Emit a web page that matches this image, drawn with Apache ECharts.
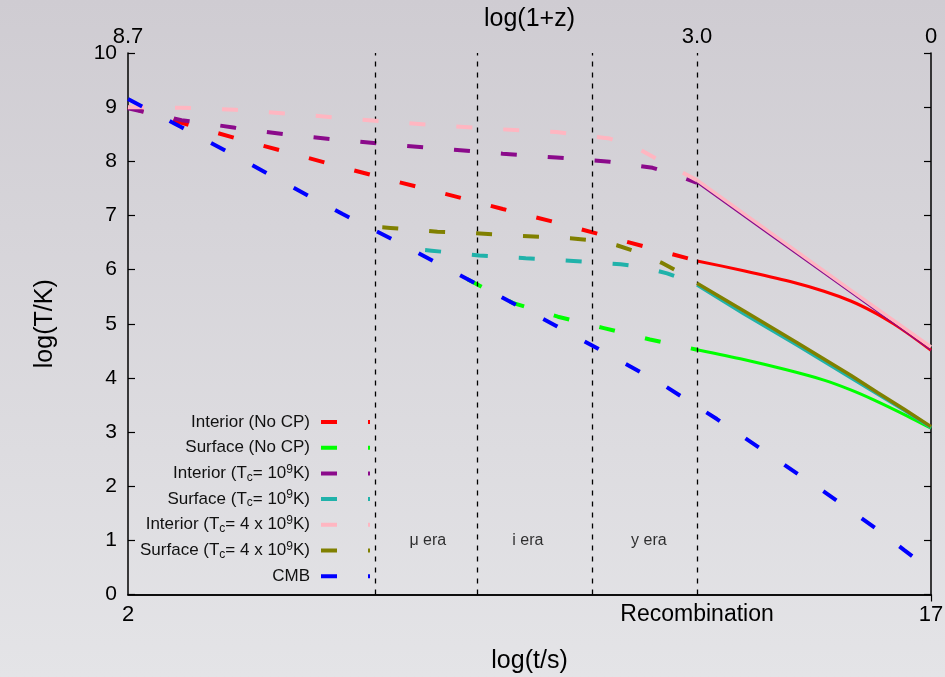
<!DOCTYPE html>
<html><head><meta charset="utf-8">
<script src="https://cdn.jsdelivr.net/npm/echarts@6/dist/echarts.min.js"></script>
<style>
html,body{margin:0;padding:0;width:945px;height:677px;overflow:hidden;background:linear-gradient(#cfccd2,#e4e4e7);}
#c{width:945px;height:677px;}
</style>
</head><body><div id="c"></div>
<script>
// ---- data ----
const bottomTickValues = [2, 12.63, 17];
const bottomTickLabels = ['2', 'Recombination', '17'];
const topTickLabels = ['8.7', '3.0', '0'];
const eraLines = [6.62, 8.53, 10.68, 12.63];
const eraNames = ['\u03bc era', 'i era', 'y era'];
const eraX = [7.6, 9.47, 11.73];
const eraY = [1.0, 1.0, 1.0];

const seriesNames = ['Interior (No CP)', 'Surface (No CP)', 'Interior (Tc = 10^9 K)', 'Surface (Tc = 10^9 K)',
  'Interior (Tc = 4 x 10^9 K)', 'Surface (Tc = 4 x 10^9 K)', 'CMB'];

const redX = [2, 3, 4, 5, 6, 7, 8, 9, 10, 11, 12, 12.63];
const redY = [9.0, 8.71, 8.43, 8.16, 7.89, 7.63, 7.38, 7.12, 6.87, 6.6, 6.33, 6.16];
const redLateX = [12.63, 13.5, 14.37, 15, 15.5, 15.92, 16.3, 16.6, 17];
const redLateY = [6.16, 5.98, 5.78, 5.6, 5.42, 5.22, 5.0, 4.8, 4.51];

const greenX = [8.34, 9.2, 10.03, 10.89, 11.75, 12.63];
const greenY = [5.82, 5.38, 5.13, 4.92, 4.71, 4.52];
const greenLateX = [12.63, 13.5, 14.3, 15, 15.5, 15.92, 16.55, 17];
const greenLateY = [4.52, 4.34, 4.15, 3.96, 3.78, 3.6, 3.3, 3.07];

const purpleX = [2, 3, 4, 5, 6, 7, 8, 9, 10, 11, 11.8, 12.2, 12.63];
const purpleY = [8.98, 8.76, 8.62, 8.49, 8.39, 8.3, 8.22, 8.14, 8.07, 7.99, 7.88, 7.76, 7.6];
const purpleLateX = [12.63, 14, 15.5, 17];
const purpleLateY = [7.6, 6.63, 5.57, 4.51];

const cyanX = [7.55, 7.67, 8.56, 9.43, 10.32, 11.2, 11.6, 12.07, 12.35, 12.63];
const cyanY = [6.36, 6.35, 6.26, 6.21, 6.16, 6.1, 6.05, 5.93, 5.83, 5.71];
const cyanLateX = [12.63, 13.5, 14.5, 15.5, 16.5, 17];
const cyanLateY = [5.71, 5.18, 4.6, 4.0, 3.4, 3.08];

const pinkX = [2, 3, 4, 5, 6, 7, 8, 9, 10, 11, 11.5, 12, 12.63];
const pinkY = [9.0, 8.99, 8.95, 8.88, 8.8, 8.72, 8.65, 8.59, 8.54, 8.42, 8.25, 7.98, 7.65];
const pinkLateX = [12.63, 14, 15.5, 17];
const pinkLateY = [7.65, 6.68, 5.62, 4.57];

const oliveX = [6.75, 6.9, 7.78, 8.5, 9.37, 10.26, 10.8, 11.13, 11.5, 11.96, 12.3, 12.63];
const oliveY = [6.78, 6.77, 6.7, 6.67, 6.62, 6.58, 6.53, 6.45, 6.33, 6.13, 5.95, 5.75];
const oliveLateX = [12.63, 13.5, 14.5, 15.5, 16, 16.5, 17];
const oliveLateY = [5.75, 5.24, 4.65, 4.05, 3.73, 3.42, 3.1];

const blueX = [2, 3, 4, 5, 6, 7, 8, 9, 10, 11, 12, 13, 14, 15, 16, 16.5, 17];
const blueY = [9.15, 8.63, 8.1, 7.56, 7.03, 6.53, 6.0, 5.48, 4.96, 4.42, 3.87, 3.24, 2.57, 1.9, 1.2, 0.82, 0.45];

// ---- build ----
const zip = (xs, ys) => xs.map((x, i) => [x, ys[i]]);
const FONT = 'Liberation Sans, Helvetica, Arial, sans-serif';
const DASH = [16, 31];

function dashed(name, color, xs, ys, z) {
  return { type: 'line', name, data: zip(xs, ys), symbol: 'none', silent: true, z,
    lineStyle: { color, width: 4, type: DASH, cap: 'butt' }, itemStyle: { color } };
}
function solid(name, color, xs, ys, width, z, smooth) {
  return { type: 'line', name, data: zip(xs, ys), symbol: 'none', silent: true, z,
    smooth: smooth || false,
    lineStyle: { color, width, type: 'solid' }, itemStyle: { color } };
}

const C = { red: '#ff0000', green: '#00ff00', purple: '#8b0a8b', cyan: '#20b2aa', pink: '#ffb6c1', olive: '#808000', blue: '#0000ff' };

const legendRich = {
  'Interior (No CP)': 'Interior (No CP)',
  'Surface (No CP)': 'Surface (No CP)',
  'Interior (Tc = 10^9 K)': 'Interior (T{sub|c}= 10{sup|9}K)',
  'Surface (Tc = 10^9 K)': 'Surface (T{sub|c}= 10{sup|9}K)',
  'Interior (Tc = 4 x 10^9 K)': 'Interior (T{sub|c}= 4 x 10{sup|9}K)',
  'Surface (Tc = 4 x 10^9 K)': 'Surface (T{sub|c}= 4 x 10{sup|9}K)',
  'CMB': 'CMB'
};

const series = [
  dashed(seriesNames[0], C.red, redX, redY, 2),
  solid(seriesNames[0], C.red, redLateX, redLateY, 3, 2, 0.25),
  dashed(seriesNames[1], C.green, greenX, greenY, 3),
  solid(seriesNames[1], C.green, greenLateX, greenLateY, 3, 3, 0.25),
  dashed(seriesNames[2], C.purple, purpleX, purpleY, 4),
  solid(seriesNames[2], C.purple, purpleLateX, purpleLateY, 1.2, 6),
  dashed(seriesNames[3], C.cyan, cyanX, cyanY, 5),
  solid(seriesNames[3], C.cyan, cyanLateX, cyanLateY, 3, 5),
  dashed(seriesNames[4], C.pink, pinkX, pinkY, 5),
  solid(seriesNames[4], C.pink, pinkLateX, pinkLateY, 3.5, 5),
  dashed(seriesNames[5], C.olive, oliveX, oliveY, 6),
  solid(seriesNames[5], C.olive, oliveLateX, oliveLateY, 3.5, 6),
  dashed(seriesNames[6], C.blue, blueX, blueY, 8),
  {
    type: 'line', name: 'eras', data: [], silent: true, z: 1,
    markLine: {
      silent: true, symbol: 'none', animation: false,
      label: { show: false },
      lineStyle: { color: '#000', width: 1.3, type: [5, 6] },
      data: eraLines.map(v => ({ xAxis: v }))
    }
  },
  {
    type: 'scatter', name: 'eraLabels', silent: true, symbolSize: 1, z: 9,
    itemStyle: { color: 'rgba(0,0,0,0)' },
    data: eraX.map((x, i) => [x, eraY[i], eraNames[i]]),
    label: { show: true, position: 'inside', formatter: p => p.data[2], fontSize: 16, color: '#000', fontFamily: FONT }
  }
];

const chart = echarts.init(document.getElementById('c'), null, { renderer: 'canvas' });
chart.setOption({
  animation: false,
  backgroundColor: 'transparent',
  grid: { left: 128, right: 14, top: 53, bottom: 82.5, containLabel: false, outerBoundsMode: 'none' },
  legend: {
    orient: 'vertical', right: 575, top: 412, align: 'right', padding: 0,
    itemWidth: 49, itemHeight: 4, itemGap: 5.7, selectedMode: false,
    icon: 'path://M0 0H16V4H0Z M47 0H49V4H47Z',
    symbolKeepAspect: false,
    data: seriesNames,
    formatter: n => legendRich[n],
    textStyle: {
      fontSize: 17, color: '#111', fontFamily: FONT, lineHeight: 20, padding: [0, 6, 0, 0],
      rich: {
        sub: { fontSize: 12, lineHeight: 20, verticalAlign: 'bottom', fontFamily: FONT, color: '#111' },
        sup: { fontSize: 12, lineHeight: 20, verticalAlign: 'top', fontFamily: FONT, color: '#111' }
      }
    }
  },
  xAxis: [
    {
      type: 'value', position: 'bottom', min: 2, max: 17,
      axisLine: { show: true, lineStyle: { color: '#000', width: 1.5 } },
      axisTick: { show: false },
      splitLine: { show: false },
      axisLabel: {
        customValues: bottomTickValues, margin: 9, color: '#000', fontSize: 22, fontFamily: FONT,
        formatter: v => { const i = bottomTickValues.indexOf(v); return i === 1 ? '{r|' + bottomTickLabels[i] + '}' : bottomTickLabels[i]; },
        rich: { r: { fontSize: 23, fontFamily: FONT, color: '#000' } }
      },
      name: 'log(t/s)', nameLocation: 'middle', nameGap: 54, nameMoveOverlap: false,
      nameTextStyle: { fontSize: 25, color: '#000', fontFamily: FONT }
    },
    {
      type: 'value', position: 'top', min: 2, max: 17,
      axisLine: { show: true, lineStyle: { color: '#000', width: 1.5 } },
      axisTick: { show: true, inside: true, length: 7, customValues: [17], lineStyle: { color: '#000', width: 1.2 } },
      splitLine: { show: false },
      axisLabel: {
        customValues: bottomTickValues, margin: 5, color: '#000', fontSize: 22, fontFamily: FONT,
        formatter: v => topTickLabels[bottomTickValues.indexOf(v)]
      },
      name: 'log(1+z)', nameLocation: 'middle', nameGap: 21, nameMoveOverlap: false,
      nameTextStyle: { fontSize: 25, color: '#000', fontFamily: FONT }
    }
  ],
  yAxis: [
    {
      type: 'value', position: 'left', min: 0, max: 10, interval: 1,
      axisLine: { show: true, lineStyle: { color: '#000', width: 1.5 } },
      axisTick: { show: true, inside: true, length: 7, lineStyle: { color: '#000', width: 1.2 } },
      splitLine: { show: false },
      axisLabel: { margin: 11, color: '#000', fontSize: 21, fontFamily: FONT },
      name: 'log(T/K)', nameLocation: 'middle', nameGap: 70, nameMoveOverlap: false,
      nameTextStyle: { fontSize: 25, color: '#000', fontFamily: FONT }
    },
    {
      type: 'value', position: 'right', min: 0, max: 10, interval: 1,
      axisLine: { show: true, lineStyle: { color: '#000', width: 1.5 } },
      axisTick: { show: true, inside: true, length: 7, lineStyle: { color: '#000', width: 1.2 } },
      splitLine: { show: false },
      axisLabel: { show: false }
    }
  ],
  series
});
</script></body></html>
